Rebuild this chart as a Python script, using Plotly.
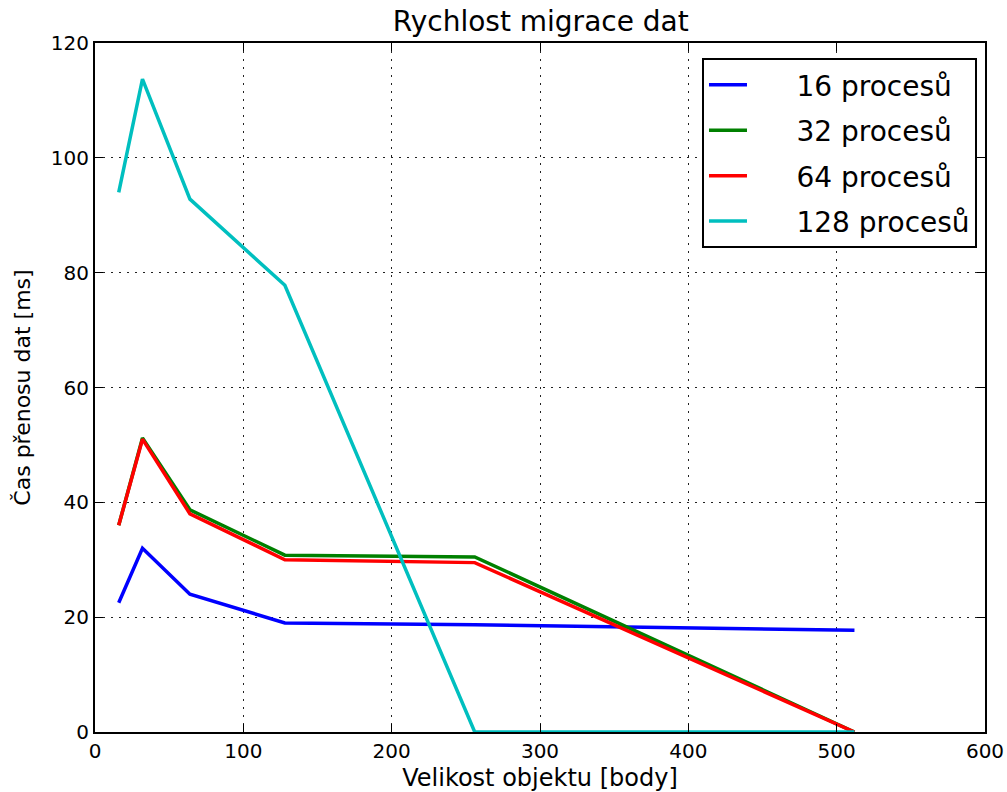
import plotly.graph_objects as go

x_vals = [16, 32, 64, 128, 256, 512]
p16 = [22.5, 32.0, 24.0, 19.0, 18.7, 17.7]
p32 = [36.0, 51.2, 38.7, 30.8, 30.5, 0.0]
p64 = [36.0, 51.0, 38.0, 30.0, 29.5, 0.0]
p128 = [94.0, 113.7, 92.8, 77.8, 0.0, 0.0]
names = ["16 procesů", "32 procesů", "64 procesů", "128 procesů"]
colors = ["#0000ff", "#008000", "#ff0000", "#00bfbf"]

x_ticks = [0, 100, 200, 300, 400, 500, 600]
y_ticks = [0, 20, 40, 60, 80, 100, 120]

NBSP = "\u00a0"

fig = go.Figure()
for i, (ys, nm, c) in enumerate(zip([p16, p32, p64, p128], names, colors)):
    fig.add_trace(go.Scatter(x=x_vals, y=ys, mode="lines", name=NBSP * 5 + nm,
                             line=dict(color=c, width=3.5), legendgroup=str(i)))

font = "DejaVu Sans"
axis_common = dict(showline=True, linecolor="black", linewidth=2, mirror="ticks",
                   ticks="inside", ticklen=8, tickcolor="black", tickwidth=1,
                   showgrid=True, gridcolor="#222222", griddash="2px,6px", gridwidth=1,
                   zeroline=False, automargin=False,
                   tickfont=dict(family=font, size=20, color="black"))

fig.update_layout(
    width=1007, height=792,
    margin=dict(l=95, r=22, t=43, b=60),
    paper_bgcolor="white", plot_bgcolor="white",
    title=dict(text="Rychlost migrace dat", x=0.537, xanchor="center", y=0.973, yanchor="middle",
               font=dict(family=font, size=28, color="black")),
    xaxis=dict(range=[0, 600], tickvals=x_ticks,
               title=dict(text="Velikost objektu [body]", font=dict(family=font, size=24, color="black"), standoff=8),
               **axis_common),
    yaxis=dict(range=[0, 120], tickvals=y_ticks,
               title=dict(text="Čas přenosu dat [ms]", font=dict(family=font, size=22, color="black"), standoff=14),
               **axis_common),
    legend=dict(x=0.991, xanchor="right", y=0.978, yanchor="top",
                bordercolor="black", borderwidth=2, bgcolor="white",
                font=dict(family=font, size=28, color="black"),
                tracegroupgap=6, itemwidth=38),
    showlegend=True,
)

fig.write_html("out.html", config={"displayModeBar": False},
               post_script="document.body.style.margin='0px';")
